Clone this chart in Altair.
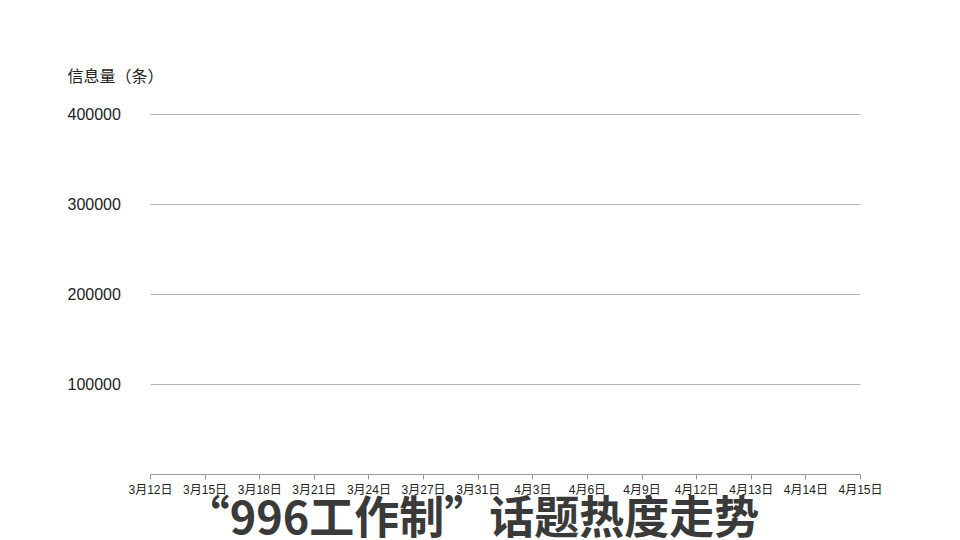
import altair as alt
import pandas as pd

dates = ["3月12日", "3月15日", "3月18日", "3月21日", "3月24日", "3月27日", "3月31日",
         "4月3日", "4月6日", "4月9日", "4月12日", "4月13日", "4月14日", "4月15日"]
# The reference plot shows no visible data line: values are unknown/empty
counts = [None] * len(dates)
y_ticks = [100000, 200000, 300000, 400000]

df = pd.DataFrame({"date": dates, "count": counts})

FONT = "Liberation Sans, Noto Sans CJK SC"

chart = alt.Chart(df).mark_line(color="#d9534f").encode(
    x=alt.X("date:N",
            scale=alt.Scale(type="point", padding=0, domain=dates),
            axis=alt.Axis(title=None, labelAngle=0, labelFontSize=12, labelColor="#222",
                          labelFont=FONT, domainColor="#999", tickColor="#999",
                          tickSize=5, labelPadding=5, grid=False)),
    y=alt.Y("count:Q",
            scale=alt.Scale(domain=[0, 400000], nice=False),
            axis=alt.Axis(title="信息量（条）", values=y_ticks, format="d", domain=False, ticks=False,
                          labelAlign="left", labelPadding=83, labelFontSize=16,
                          labelColor="#222", labelFont=FONT,
                          gridColor="#b5b5b5", gridWidth=1,
                          titleAngle=0, titleAlign="left", titleBaseline="middle",
                          titleX=-83, titleY=-38, titleFontSize=16,
                          titleFontWeight="normal", titleColor="#222", titleFont=FONT)),
).properties(
    width=710,
    height=360,
    title=alt.TitleParams(
        "“996工作制”话题热度走势",
        orient="bottom", anchor="middle", fontSize=45, fontWeight="bold",
        color="#3a3a3a", font="Noto Sans CJK SC", offset=3, dx=-33,
    ),
    autosize=alt.AutoSizeParams(type="none"),
    padding={"left": 142, "top": 106, "right": 80, "bottom": 66},
).configure_view(stroke=None)

chart.save("out.html", embed_options={"renderer": "svg", "actions": False})
